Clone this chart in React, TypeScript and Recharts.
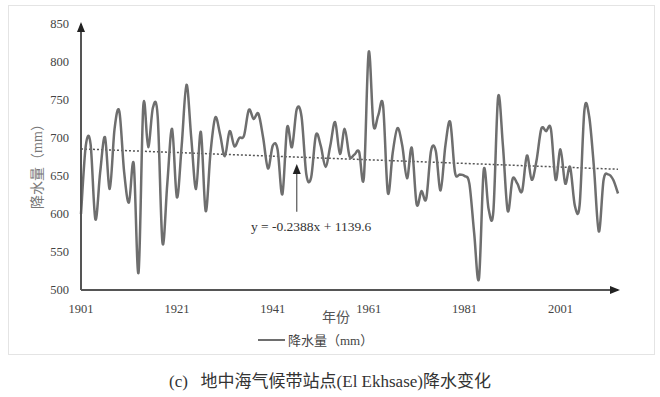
import React from 'react';
import { LineChart, Line, XAxis, YAxis, ReferenceLine, ReferenceDot, Legend } from 'recharts';

const startYear = 1901;
const precipitation: number[] = [
  600, 690, 692, 593, 655, 701, 633, 712, 735, 655,
  615, 666, 523, 743, 688, 740, 728, 562, 640, 712,
  622, 690, 770, 700, 633, 708, 604, 680, 727, 705,
  676, 709, 689, 700, 703, 737, 725, 732, 700, 660,
  690, 685, 626, 714, 688, 738, 728, 652, 648, 704,
  690, 662, 690, 721, 679, 712, 676, 678, 682, 648,
  813, 717, 730, 743, 628, 680, 713, 690, 647, 687,
  613, 630, 620, 683, 683, 631, 690, 721, 655, 652,
  650, 640, 575, 515, 658, 607, 603, 754, 690, 604,
  646, 640, 630, 677, 645, 670, 712, 709, 712, 645,
  685, 640, 662, 611, 612, 737, 728, 660, 577, 645,
  652, 645, 627,
];
const years: number[] = precipitation.map((_, i) => startYear + i);
const xTicks: number[] = [1901, 1921, 1941, 1961, 1981, 2001];
const yTicks: number[] = [500, 550, 600, 650, 700, 750, 800, 850];
const trendSlope = -0.2388;
const trendIntercept = 1139.6;
const equationText = 'y = -0.2388x + 1139.6';
const seriesName = '降水量（mm）';
const yTitle = '降水量（mm）';
const xTitle = '年份';
const caption = '(c)\u00a0\u00a0\u00a0地中海气候带站点(El Ekhsase)降水变化';

const data = years.map((year, i) => ({ year, value: precipitation[i] }));
const firstYear = years[0];
const lastYear = years[years.length - 1];
const trendAt = (x: number) => trendSlope * x + trendIntercept;
const annotationYear = 1946;
const arrowFrom = 603;
const arrowTo = 662;
const labelYear = 1949;
const labelValue = 584;

const SERIF = '"Liberation Serif", "Times New Roman", "Noto Sans CJK SC", serif';

// Excel-like smooth line (Catmull-Rom through each point)
const smoothCurve: any = (context: any) => {
  let pts: [number, number][] = [];
  return {
    areaStart() {},
    areaEnd() {},
    lineStart() {
      pts = [];
    },
    point(x: number, y: number) {
      pts.push([+x, +y]);
    },
    lineEnd() {
      const n = pts.length;
      if (!n) return;
      context.moveTo(pts[0][0], pts[0][1]);
      const t = 1 / 6;
      for (let i = 0; i < n - 1; i++) {
        const p0 = pts[i - 1] || pts[i];
        const p1 = pts[i];
        const p2 = pts[i + 1];
        const p3 = pts[i + 2] || p2;
        context.bezierCurveTo(
          p1[0] + (p2[0] - p0[0]) * t,
          p1[1] + (p2[1] - p0[1]) * t,
          p2[0] - (p3[0] - p1[0]) * t,
          p2[1] - (p3[1] - p1[1]) * t,
          p2[0],
          p2[1]
        );
      }
    },
  };
};

const UpArrow = (props: any) => {
  const { cx, cy } = props;
  return <polygon points={`${cx},${cy - 3} ${cx - 4},${cy + 7} ${cx + 4},${cy + 7}`} fill="#222" />;
};
const AxisUpArrow = (props: any) => {
  const { cx, cy } = props;
  return <polygon points={`${cx},${cy - 2} ${cx - 4},${cy + 8} ${cx + 4},${cy + 8}`} fill="#222" />;
};
const AxisRightArrow = (props: any) => {
  const { cx, cy } = props;
  return <polygon points={`${cx + 2},${cy} ${cx - 8},${cy - 4} ${cx - 8},${cy + 4}`} fill="#222" />;
};
const EquationLabel = (props: any) => {
  const { cx, cy } = props;
  return (
    <text x={cx} y={cy} textAnchor="middle" dominantBaseline="central" fontFamily={SERIF} fontSize={13.5} fill="#333">
      {equationText}
    </text>
  );
};

const LegendContent = () => (
  <div style={{ display: 'flex', alignItems: 'center', fontFamily: SERIF, fontSize: 13, color: '#444', whiteSpace: 'nowrap' }}>
    <span style={{ display: 'inline-block', width: 27, height: 2, background: '#6e6e6e', marginRight: 3 }} />
    <span>{seriesName}</span>
  </div>
);

export default function App() {
  return (
    <div style={{ position: 'absolute', left: 0, top: 0, width: 660, height: 397, background: '#fff', overflow: 'hidden' }}>
      <div
        style={{
          position: 'absolute',
          left: 8,
          top: 5,
          width: 645,
          height: 348,
          border: '1.5px solid #e4e4e4',
        }}
      />
      <div style={{ position: 'absolute', left: 0, top: 0 }}>
        <LineChart width={660} height={397} data={data} margin={{ top: 24, right: 42, left: 21, bottom: 77 }}>
          <XAxis
            dataKey="year"
            type="number"
            domain={[firstYear, lastYear]}
            ticks={xTicks}
            axisLine={{ stroke: '#555', strokeWidth: 2 }}
            tickLine={false}
            tickMargin={8}
            height={30}
            tick={{ fontFamily: SERIF, fontSize: 12.5, fill: '#444' }}
            label={{
              content: () => (
                <text x={336} y={317} textAnchor="middle" dominantBaseline="central" fontFamily={SERIF} fontSize={14} fill="#555">
                  {xTitle}
                </text>
              ),
            }}
          />
          <YAxis
            type="number"
            domain={[500, 850]}
            ticks={yTicks}
            width={60}
            axisLine={{ stroke: '#555', strokeWidth: 2 }}
            tickLine={false}
            tickMargin={6}
            tick={{ fontFamily: SERIF, fontSize: 12.5, fill: '#444' }}
            label={{
              content: () => (
                <text
                  x={0}
                  y={0}
                  transform="translate(37,163) rotate(-90)"
                  textAnchor="middle"
                  dominantBaseline="central"
                  fontFamily={SERIF}
                  fontSize={14}
                  fill="#777"
                >
                  {yTitle}
                </text>
              ),
            }}
          />
          <Legend
            layout="horizontal"
            verticalAlign="middle"
            align="center"
            wrapperStyle={{ left: 258, top: 330, width: 130 }}
            content={LegendContent}
          />
          <ReferenceLine
            segment={[
              { x: firstYear, y: trendAt(firstYear) },
              { x: lastYear, y: trendAt(lastYear) },
            ]}
            stroke="#555"
            strokeWidth={1.5}
            strokeDasharray="2 2"
            ifOverflow="visible"
          />
          <Line
            dataKey="value"
            name={seriesName}
            type={smoothCurve}
            stroke="#6e6e6e"
            strokeWidth={2.5}
            dot={false}
            activeDot={false}
            isAnimationActive={false}
          />
          <ReferenceLine
            segment={[
              { x: annotationYear, y: arrowFrom },
              { x: annotationYear, y: arrowTo },
            ]}
            stroke="#555"
            strokeWidth={1.2}
            ifOverflow="visible"
          />
          <ReferenceDot x={annotationYear} y={arrowTo} shape={UpArrow} ifOverflow="visible" />
          <ReferenceDot x={labelYear} y={labelValue} shape={EquationLabel} ifOverflow="visible" />
          <ReferenceDot x={firstYear} y={850} shape={AxisUpArrow} ifOverflow="visible" />
          <ReferenceDot x={lastYear} y={500} shape={AxisRightArrow} ifOverflow="visible" />
        </LineChart>
      </div>
      <div
        style={{
          position: 'absolute',
          left: 0,
          top: 367,
          width: 660,
          textAlign: 'center',
          fontFamily: SERIF,
          fontSize: 17,
          color: '#333',
          whiteSpace: 'pre',
        }}
      >
        {caption}
      </div>
    </div>
  );
}
